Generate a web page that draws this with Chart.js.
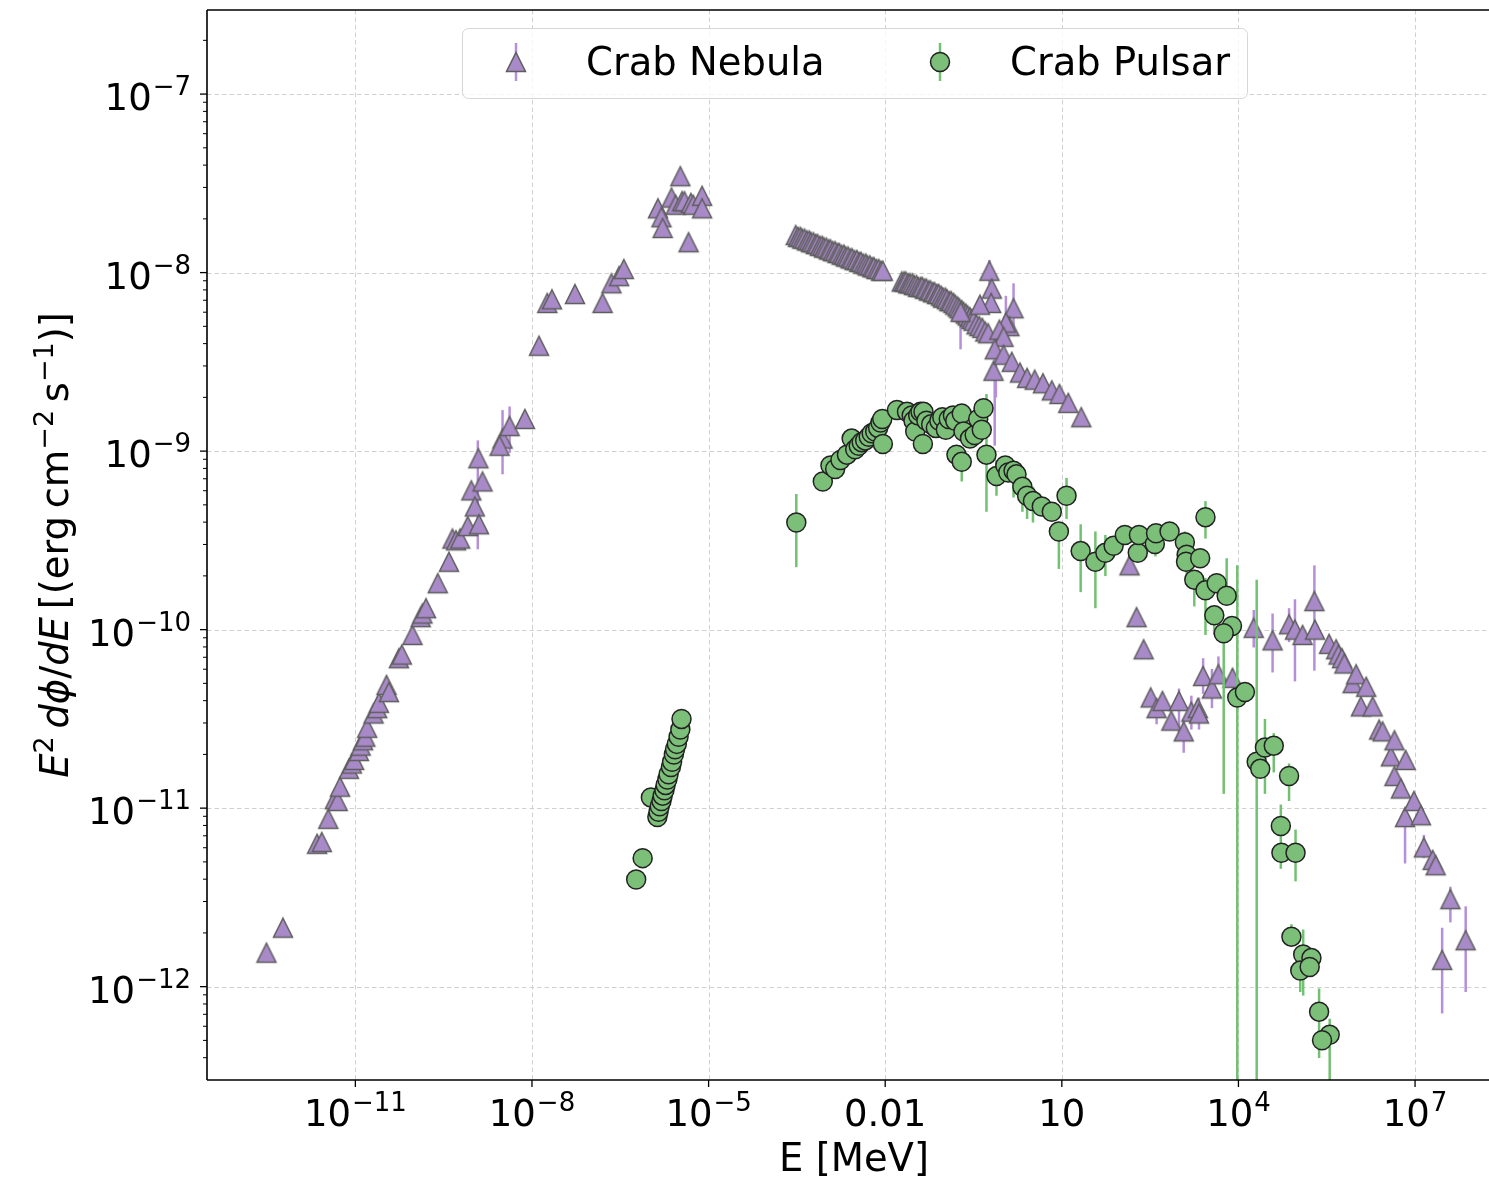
<!DOCTYPE html>
<html>
<head>
<meta charset="utf-8">
<title>Crab Nebula / Crab Pulsar SED</title>
<script src="https://cdn.jsdelivr.net/npm/chart.js@4.4.1/dist/chart.umd.min.js"></script>
<style>
  html, body { margin: 0; padding: 0; background: #fff; overflow: hidden; }
  canvas { display: block; }
</style>
</head>
<body>
<canvas id="sed" width="1489" height="1182"></canvas>
<script>
// all values are log10: E in MeV, flux in erg cm^-2 s^-1

// Crab Nebula
const nebulaLogE = [
  // radio / infrared
  -12.51, -12.23, -11.65, -11.57, -11.46, -11.35, -11.30, -11.26, -11.11, -11.06,
  -11.02, -10.94, -10.91, -10.87, -10.83, -10.80, -10.69, -10.63, -10.60, -10.47,
  -10.43, -10.26, -10.21, -10.03, -9.89, -9.86, -9.80, -9.60, -9.41, -9.35,
  -9.29, -9.22, -9.09, -9.03, -8.97, -8.90, -8.84, -8.91, -8.50, -8.55,
  -8.38, -8.12,
  // optical / UV
  -7.88, -7.74, -7.66, -7.27, -6.80, -6.65, -6.52, -6.44, -5.86, -5.80,
  -5.78, -5.63, -5.56, -5.48, -5.45, -5.41, -5.34, -5.30, -5.26, -5.11, -5.11,
  // soft X-ray
  -3.52, -3.48, -3.44, -3.41, -3.37, -3.33, -3.29, -3.26, -3.22, -3.18,
  -3.15, -3.11, -3.07, -3.04, -3.00, -2.96, -2.93, -2.89, -2.85, -2.81,
  -2.78, -2.74, -2.70, -2.67, -2.63, -2.59, -2.56, -2.52, -2.48, -2.44,
  -2.41, -2.37, -2.33, -2.30, -2.26, -2.22, -2.19, -2.15, -2.11, -2.07, -2.04,
  // hard X-ray / soft gamma
  -1.72, -1.68, -1.65, -1.61, -1.58, -1.54, -1.51, -1.47, -1.44, -1.40,
  -1.37, -1.33, -1.30, -1.26, -1.23, -1.19, -1.16, -1.12, -1.09, -1.05,
  -1.02, -0.98, -0.95, -0.91, -0.88, -0.84, -0.81, -0.77, -0.74, -0.70,
  -0.67, -0.63, -0.60, -0.56, -0.53, -0.50,
  -0.72, -0.45, -0.40, -0.35, -0.30, -0.25, -0.23, -0.19, -0.20, -0.39,
  0.18, 0.11, 0.05, -0.06, 0.01, -0.14, -0.16, 0.01, 0.15, 0.29,
  0.41, 0.54, 0.68, 0.83, 0.96, 1.11, 1.33,
  // gamma
  2.15, 2.27, 2.39, 2.51, 2.61, 2.71, 2.86, 2.99, 3.07, 3.20,
  3.31, 3.33, 3.40, 3.55, 3.66, 3.90, 4.26, 4.58, 4.86, 4.96,
  5.09, 5.29, 5.30, 5.54, 5.66, 5.70, 5.76, 5.80, 5.94, 6.00,
  6.08, 6.17, 6.28, 6.39, 6.45, 6.59, 6.65, 6.65, 6.76, 6.84,
  6.83, 6.98, 7.10, 7.15, 7.30, 7.35, 7.46, 7.60, 7.86
];
const nebulaLogF = [
  -11.81, -11.67, -11.20, -11.19, -11.06, -10.95, -10.96, -10.88, -10.78, -10.75,
  -10.73, -10.68, -10.65, -10.62, -10.60, -10.55, -10.47, -10.44, -10.41, -10.31,
  -10.35, -10.16, -10.14, -10.03, -9.93, -9.91, -9.88, -9.74, -9.62, -9.49,
  -9.50, -9.49, -9.42, -9.22, -9.31, -9.41, -9.17, -9.04, -8.93, -8.97,
  -8.86, -8.82,
  -8.41, -8.17, -8.15, -8.12, -8.17, -8.06, -8.02, -7.98, -7.64, -7.69,
  -7.75, -7.58, -7.62, -7.46, -7.60, -7.60, -7.83, -7.61, -7.62, -7.57, -7.64,
  -7.79, -7.80, -7.80, -7.81, -7.81, -7.82, -7.82, -7.83, -7.83, -7.84,
  -7.84, -7.85, -7.85, -7.86, -7.86, -7.87, -7.87, -7.88, -7.88, -7.89,
  -7.89, -7.90, -7.90, -7.91, -7.91, -7.92, -7.92, -7.93, -7.93, -7.94,
  -7.94, -7.95, -7.95, -7.96, -7.96, -7.97, -7.97, -7.98, -7.98, -7.99, -7.99,
  -8.05, -8.05, -8.05, -8.06, -8.06, -8.06, -8.07, -8.07, -8.08, -8.08,
  -8.08, -8.09, -8.09, -8.10, -8.10, -8.11, -8.11, -8.12, -8.12, -8.13,
  -8.14, -8.14, -8.15, -8.16, -8.16, -8.17, -8.18, -8.19, -8.20, -8.21,
  -8.22, -8.23, -8.24, -8.25, -8.26, -8.27,
  -8.22, -8.29, -8.30, -8.31, -8.33, -8.34, -7.99, -8.09, -8.17, -8.18,
  -8.20, -8.30, -8.28, -8.32, -8.36, -8.43, -8.55, -8.46, -8.50, -8.56,
  -8.59, -8.60, -8.62, -8.66, -8.68, -8.73, -8.81,
  -9.64, -9.93, -10.11, -10.38, -10.44, -10.40, -10.51, -10.40, -10.57, -10.46,
  -10.44, -10.47, -10.26, -10.33, -10.25, -10.27, -9.99, -10.06, -9.97, -10.00,
  -10.03, -9.84, -10.00, -10.08, -10.11, -10.14, -10.16, -10.19, -10.30, -10.25,
  -10.43, -10.32, -10.43, -10.56, -10.57, -10.71, -10.62, -10.82, -10.89, -10.73,
  -11.05, -10.96, -11.04, -11.22, -11.29, -11.32, -11.85, -11.51, -11.74
];

// Crab Pulsar
const pulsarLogE = [
  // optical
  -6.23, -6.12, -5.98, -5.87, -5.85, -5.83, -5.80, -5.78, -5.75, -5.73,
  -5.70, -5.68, -5.64, -5.62, -5.59, -5.57, -5.54, -5.51, -5.48, -5.46,
  // X-ray
  -3.51, -3.06, -2.93, -2.85, -2.76, -2.65, -2.57, -2.51, -2.45, -2.40,
  -2.34, -2.28, -2.23, -2.17, -2.12, -2.08, -2.04, -2.05, -1.80, -1.63,
  -1.55, -1.52, -1.49, -1.44, -1.40, -1.36, -1.35, -1.30, -1.22, -1.14,
  -1.08, -1.03, -0.97, -0.92, -0.85, -0.81, -0.79, -0.70, -0.70, -0.67,
  -0.56, -0.48, -0.42, -0.36, -0.33, -0.28, -0.11, 0.04, 0.09, 0.18,
  0.23, 0.33, 0.41, 0.51, 0.66, 0.83, 0.95, 1.08,
  // gamma
  1.32, 1.57, 1.74, 1.88, 2.07, 2.29, 2.31, 2.58, 2.60, 2.83,
  3.09, 3.12, 3.11, 3.35, 3.44, 3.25, 3.44, 3.63, 3.80, 3.59,
  3.89, 3.75, 3.98, 4.11, 4.31, 4.37, 4.45, 4.60, 4.86, 4.72,
  4.73, 4.97, 4.90, 5.10, 5.24, 5.05, 5.21, 5.37, 5.55, 5.42
];
const pulsarLogF = [
  -11.40, -11.28, -10.94, -11.05, -11.02, -10.99, -10.96, -10.93, -10.90, -10.87,
  -10.84, -10.81, -10.77, -10.74, -10.70, -10.67, -10.64, -10.60, -10.56, -10.50,
  -9.40, -9.17, -9.08, -9.10, -9.05, -9.02, -8.93, -8.99, -8.97, -8.95,
  -8.94, -8.92, -8.90, -8.89, -8.87, -8.84, -8.96, -8.82, -8.77, -8.78,
  -8.80, -8.83, -8.89, -8.80, -8.78, -8.96, -8.78, -8.83, -8.85, -8.87,
  -8.83, -8.81, -8.88, -8.82, -8.80, -8.83, -9.02, -8.79, -9.06, -8.89,
  -8.93, -8.91, -8.82, -8.88, -8.76, -9.02, -9.14, -9.08, -9.12, -9.11,
  -9.13, -9.20, -9.25, -9.28, -9.31, -9.34, -9.45, -9.25,
  -9.56, -9.62, -9.57, -9.53, -9.47, -9.57, -9.47, -9.52, -9.46, -9.45,
  -9.51, -9.58, -9.62, -9.60, -9.37, -9.72, -9.78, -9.74, -9.81, -9.92,
  -9.98, -10.02, -10.38, -10.35, -10.74, -10.78, -10.66, -10.65, -10.82, -11.10,
  -11.25, -11.25, -11.72, -11.82, -11.84, -11.91, -11.89, -12.14, -12.27, -12.30
];

// visible error bars: [log E, log lower, log upper]
const nebulaBars = [
  [-8.92, -9.55, -8.94], [-8.50, -9.13, -8.77], [-8.38, -9.01, -8.75],
  [-0.72, -8.43, -8.20], [-0.23, -8.07, -7.93], [0.18, -8.35, -8.06],
  [0.05, -8.41, -8.13], [-0.14, -8.97, -8.41], [-0.12, -8.70, -8.50],
  [2.61, -10.53, -10.40], [3.07, -10.69, -10.50], [2.99, -10.58, -10.33],
  [3.20, -10.56, -10.37], [3.33, -10.56, -10.38], [3.40, -10.36, -10.16],
  [3.55, -10.44, -10.22], [3.66, -10.28, -10.15], [3.90, -10.33, -10.22],
  [4.26, -10.10, -9.89], [4.58, -10.24, -9.91], [4.86, -10.07, -9.88],
  [4.96, -10.29, -9.83], [5.29, -10.23, -9.64], [6.83, -11.31, -11.05],
  [7.15, -11.28, -11.15], [7.60, -11.64, -11.44], [7.46, -12.15, -11.67],
  [7.86, -12.03, -11.55]
];
const pulsarBars = [
  [-3.51, -9.65, -9.24], [-3.06, -9.21, -9.12], [-0.70, -9.17, -8.98],
  [-0.28, -9.34, -8.68], [-0.11, -9.25, -9.05], [0.18, -9.26, -9.05],
  [0.33, -9.34, -9.10], [0.41, -9.38, -9.15], [0.51, -9.40, -9.20],
  [0.95, -9.66, -9.40], [1.08, -9.38, -9.15], [1.32, -9.79, -9.41],
  [1.57, -9.88, -9.45], [1.74, -9.70, -9.47], [2.59, -9.59, -9.49],
  [3.09, -9.58, -9.45], [3.12, -9.70, -9.52], [3.44, -9.49, -9.28],
  [3.25, -9.87, -9.68], [3.44, -10.03, -9.71], [3.59, -10.03, -9.90],
  [3.80, -9.85, -9.60], [3.75, -10.92, -9.98], [3.98, -13.50, -9.64],
  [4.31, -13.50, -9.72], [4.45, -10.92, -10.50], [4.60, -10.80, -10.58],
  [4.86, -10.96, -10.75], [4.72, -11.34, -10.98], [4.97, -11.41, -11.12],
  [4.90, -11.77, -11.65], [5.10, -12.05, -11.68], [5.05, -12.03, -11.85],
  [5.37, -12.40, -12.01], [5.55, -13.50, -12.18]
];

// axes
const xRange = [-13.52, 8.256];
const yRange = [-12.513, -6.529];
const xTicks = [-11, -8, -5, -2, 1, 4, 7];
const xTickLabels = [['10', '\u221211'], ['10', '\u22128'], ['10', '\u22125'], ['0.01', ''], ['10', ''], ['10', '4'], ['10', '7']];
const yTicks = [-12, -11, -10, -9, -8, -7];
const yTickLabels = [['10', '\u221212'], ['10', '\u221211'], ['10', '\u221210'], ['10', '\u22129'], ['10', '\u22128'], ['10', '\u22127']];
const seriesNames = ['Crab Nebula', 'Crab Pulsar'];

const FAMILY = '"DejaVu Sans", sans-serif';
const NEBULA_FILL = '#a98ac8';
const NEBULA_EDGE = '#5e5e5e';
const NEBULA_BAR = '#b590d8';
const PULSAR_FILL = '#7bbf78';
const PULSAR_EDGE = '#222222';
const PULSAR_BAR = '#72c172';
const AXES_WIDTH = 1294;   // full axes box; the right end runs past the page edge

const font = (size, style) => (style ? style + ' ' : '') + size + 'px ' + FAMILY;
const toPoints = (logE, logF) => logE.map((e, i) => ({ x: 10 ** e, y: 10 ** logF[i] }));

// matplotlib style '^' marker: as wide as it is tall, centred on its box
function makeTriangle() {
  const c = document.createElement('canvas');
  c.width = 24; c.height = 24;
  const g = c.getContext('2d');
  g.beginPath();
  g.moveTo(12, 2.5);
  g.lineTo(21.5, 21.5);
  g.lineTo(2.5, 21.5);
  g.closePath();
  g.fillStyle = NEBULA_FILL;
  g.fill();
  g.lineWidth = 1.5;
  g.strokeStyle = NEBULA_EDGE;
  g.stroke();
  return c;
}
const triangle = makeTriangle();

function drawPower(ctx, base, sup, x, baseline, align) {
  ctx.font = font(37);
  const wb = ctx.measureText(base).width;
  ctx.font = font(26);
  const ws = sup ? ctx.measureText(sup).width + 1 : 0;
  const left = align === 'right' ? x - wb - ws : x - (wb + ws) / 2;
  ctx.textAlign = 'left';
  ctx.textBaseline = 'alphabetic';
  ctx.font = font(37);
  ctx.fillText(base, left, baseline);
  if (sup) {
    ctx.font = font(26);
    ctx.fillText(sup, left + wb + 1, baseline - 15);
  }
}

function drawBars(ctx, chart, bars, color) {
  const xs = chart.scales.x, ys = chart.scales.y, a = chart.chartArea;
  ctx.save();
  ctx.beginPath();
  ctx.rect(a.left, a.top, a.right - a.left, a.bottom - a.top);
  ctx.clip();
  ctx.strokeStyle = color;
  ctx.lineWidth = 2.5;
  bars.forEach(([e, lo, hi]) => {
    const x = xs.getPixelForValue(10 ** e);
    ctx.beginPath();
    ctx.moveTo(x, ys.getPixelForValue(10 ** lo));
    ctx.lineTo(x, ys.getPixelForValue(10 ** hi));
    ctx.stroke();
  });
  ctx.restore();
}

const sedFrame = {
  id: 'sedFrame',
  beforeDatasetsDraw(chart) {
    const { ctx, chartArea: a, scales: { x: xs, y: ys } } = chart;
    ctx.save();
    ctx.strokeStyle = '#d0d0d0';
    ctx.lineWidth = 1;
    ctx.setLineDash([4.5, 3]);
    xTicks.forEach(t => {
      const x = Math.round(xs.getPixelForValue(10 ** t)) + 0.5;
      ctx.beginPath(); ctx.moveTo(x, a.top); ctx.lineTo(x, a.bottom); ctx.stroke();
    });
    yTicks.forEach(t => {
      const y = Math.round(ys.getPixelForValue(10 ** t)) + 0.5;
      ctx.beginPath(); ctx.moveTo(a.left, y); ctx.lineTo(a.right, y); ctx.stroke();
    });
    ctx.restore();
  },
  beforeDatasetDraw(chart, args) {
    if (args.index === 0) drawBars(chart.ctx, chart, nebulaBars, NEBULA_BAR);
    else drawBars(chart.ctx, chart, pulsarBars, PULSAR_BAR);
  },
  afterDraw(chart) {
    const { ctx, chartArea: a, scales: { x: xs, y: ys } } = chart;
    ctx.save();
    ctx.fillStyle = '#000';
    ctx.strokeStyle = '#000';

    // spines
    ctx.lineWidth = 1.6;
    ctx.beginPath();
    ctx.moveTo(a.left, a.top); ctx.lineTo(a.right, a.top);
    ctx.moveTo(a.left, a.top); ctx.lineTo(a.left, a.bottom);
    ctx.moveTo(a.left, a.bottom); ctx.lineTo(a.right, a.bottom);
    ctx.stroke();

    // x ticks and labels
    ctx.lineWidth = 1.3;
    xTicks.forEach((t, i) => {
      const x = xs.getPixelForValue(10 ** t);
      ctx.beginPath(); ctx.moveTo(x, a.bottom); ctx.lineTo(x, a.bottom + 7); ctx.stroke();
      drawPower(ctx, xTickLabels[i][0], xTickLabels[i][1], x, 1126, 'center');
    });

    // y major and minor ticks, labels
    for (let d = Math.floor(yRange[0]); d <= Math.ceil(yRange[1]); d++) {
      for (let k = 1; k <= 9; k++) {
        const v = d + Math.log10(k);
        if (v < yRange[0] || v > yRange[1]) continue;
        const y = ys.getPixelForValue(10 ** v);
        ctx.lineWidth = k === 1 ? 1.3 : 1;
        ctx.beginPath(); ctx.moveTo(a.left, y); ctx.lineTo(a.left - (k === 1 ? 7 : 4), y); ctx.stroke();
      }
    }
    yTicks.forEach((t, i) => {
      const y = ys.getPixelForValue(10 ** t);
      drawPower(ctx, yTickLabels[i][0], yTickLabels[i][1], 191, y + 16, 'right');
    });

    // axis titles
    ctx.font = font(38.5);
    ctx.textAlign = 'center';
    ctx.fillText('E [MeV]', a.left + AXES_WIDTH / 2, 1171);

    const runs = [
      ['E', font(38.5, 'italic'), 0], ['2', font(27), -15], ['\u2009', font(38.5), 0],
      ['d\u03d5', font(38.5, 'italic'), 0], ['/', font(38.5), 0], ['dE', font(38.5, 'italic'), 0],
      ['\u2009[(erg\u2009cm', font(38.5), 0], ['\u22122', font(27), -15],
      ['\u2009s', font(38.5), 0], ['\u22121', font(27), -15], [')]', font(38.5), 0]
    ];
    let total = 0;
    runs.forEach(r => { ctx.font = r[1]; total += ctx.measureText(r[0]).width; });
    ctx.translate(68, (a.top + a.bottom) / 2);
    ctx.rotate(-Math.PI / 2);
    ctx.textAlign = 'left';
    let u = -total / 2;
    runs.forEach(r => {
      ctx.font = r[1];
      ctx.fillText(r[0], u, r[2]);
      u += ctx.measureText(r[0]).width;
    });
    ctx.restore();

    // legend box
    ctx.save();
    ctx.beginPath();
    ctx.roundRect(462.5, 28.5, 785, 70, 6);
    ctx.fillStyle = 'rgba(255,255,255,0.8)';
    ctx.fill();
    ctx.strokeStyle = '#d6d6d6';
    ctx.lineWidth = 1;
    ctx.stroke();

    ctx.lineWidth = 2.5;
    ctx.strokeStyle = NEBULA_BAR;
    ctx.beginPath(); ctx.moveTo(516, 43); ctx.lineTo(516, 81); ctx.stroke();
    ctx.drawImage(triangle, 516 - 12, 62 - 12);

    ctx.strokeStyle = PULSAR_BAR;
    ctx.beginPath(); ctx.moveTo(940, 43); ctx.lineTo(940, 81); ctx.stroke();
    ctx.beginPath();
    ctx.arc(940, 62, 9.5, 0, Math.PI * 2);
    ctx.fillStyle = PULSAR_FILL;
    ctx.fill();
    ctx.lineWidth = 1.5;
    ctx.strokeStyle = PULSAR_EDGE;
    ctx.stroke();

    ctx.fillStyle = '#000';
    ctx.font = font(38.5);
    ctx.textAlign = 'left';
    ctx.textBaseline = 'alphabetic';
    ctx.fillText(seriesNames[0], 586, 75);
    ctx.fillText(seriesNames[1], 1010, 75);
    ctx.restore();
  }
};

new Chart(document.getElementById('sed'), {
  type: 'scatter',
  data: {
    datasets: [
      {
        label: seriesNames[0],
        data: toPoints(nebulaLogE, nebulaLogF),
        pointStyle: triangle,
        pointRadius: 10,
        order: 2
      },
      {
        label: seriesNames[1],
        data: toPoints(pulsarLogE, pulsarLogF),
        pointStyle: 'circle',
        pointRadius: 9.5,
        backgroundColor: PULSAR_FILL,
        borderColor: PULSAR_EDGE,
        borderWidth: 1.5,
        order: 1
      }
    ]
  },
  options: {
    responsive: false,
    animation: false,
    devicePixelRatio: 1,
    events: [],
    layout: { autoPadding: false, padding: { left: 207, top: 10, right: 0, bottom: 102 } },
    plugins: { legend: { display: false }, tooltip: { enabled: false } },
    scales: {
      x: { type: 'logarithmic', display: false, min: 10 ** xRange[0], max: 10 ** xRange[1] },
      y: { type: 'logarithmic', display: false, min: 10 ** yRange[0], max: 10 ** yRange[1] }
    }
  },
  plugins: [sedFrame]
});
</script>
</body>
</html>
